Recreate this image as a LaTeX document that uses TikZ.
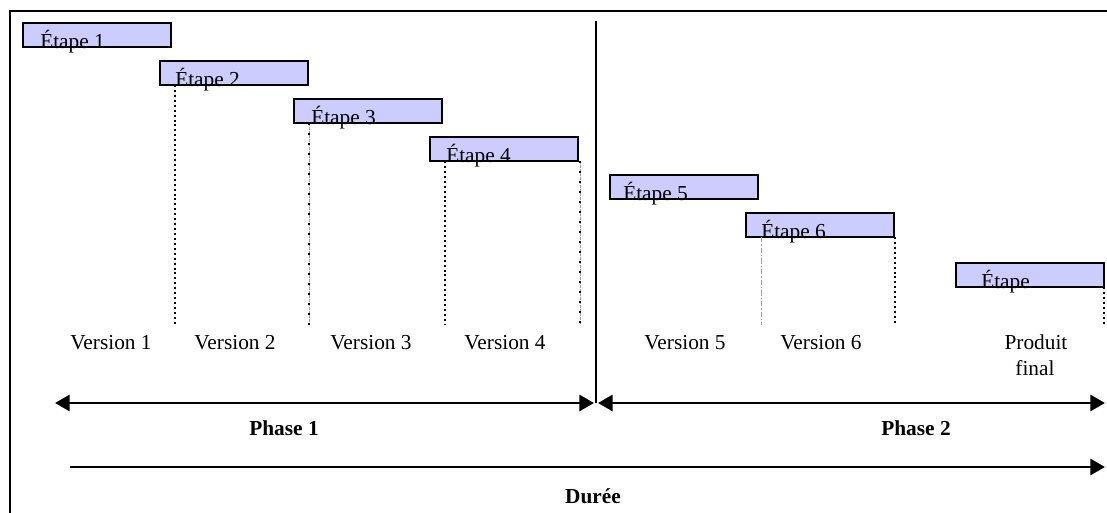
\documentclass[tikz,border=0pt]{standalone}
\usepackage{fontspec}
\setmainfont{Liberation Serif}
\usetikzlibrary{arrows.meta}
\definecolor{barfill}{HTML}{CCCCFF}
\definecolor{dotgrey}{HTML}{A0A0A0}
\begin{document}
\begin{tikzpicture}[x=0.75pt,y=-0.75pt,
  bar/.style={draw=black, line width=1.8pt, fill=barfill, minimum width=111pt, minimum height=18pt, anchor=north west, inner sep=0pt, outer sep=0pt},
  etape/.style={anchor=base west, inner sep=0pt, font=\fontsize{16}{19}\selectfont},
  version/.style={anchor=base, inner sep=0pt, font=\fontsize{16}{19}\selectfont, align=center},
  phase/.style={anchor=base, inner sep=0pt, font=\fontsize{16}{19}\selectfont\bfseries},
  blackdots/.style={line width=1.5pt, dash pattern=on 1.5pt off 2.2pt},
  greydots/.style={line width=0.6pt, draw=dotgrey, dash pattern=on 2pt off 1pt},
  greydashdot/.style={line width=0.6pt, draw=dotgrey, dash pattern=on 4pt off 1.5pt on 1pt off 1.5pt},
  sparsedots/.style={line width=1.5pt, dash pattern=on 1.5pt off 6pt},
  bigarrow/.style={line width=2.2pt, -{Triangle[length=11pt,width=12pt]}},
  dblarrow/.style={line width=2.2pt, {Triangle[length=11pt,width=12pt]}-{Triangle[length=11pt,width=12pt]}},
]
\useasboundingbox (0,0) rectangle (1107,512);
\clip (0,0) rectangle (1107,512);
% outer frame
\draw[line width=1.6pt] (10,520) -- (10,11) -- (1120,11);

% bars
\node[bar] (b1) at (23,23) {};
\node[bar] (b2) at (160,61) {};
\node[bar] (b3) at (294,99) {};
\node[bar] (b4) at (430,137) {};
\node[bar] (b5) at (610,175) {};
\node[bar] (b6) at (746,213) {};
\node[bar] (b7) at (956,263) {};

% dotted guide lines
\coordinate (d1) at (175,325);
\coordinate (d2) at (309,325);
\coordinate (d3) at (445,325);
\coordinate (d4) at (580,325);
\coordinate (d5) at (761,325);
\coordinate (d6) at (895,325);
\coordinate (d7) at (1104,325);
\draw[blackdots] (b2.south west -| d1) -- (d1);
\draw[greydots] (b3.south west -| d2) -- (d2);
\draw[sparsedots] (b3.south west -| d2) -- (d2);
\draw[blackdots] (b4.south west -| d3) -- (d3);
\draw[greydots] (b4.south east -| d4) -- (d4);
\draw[sparsedots] (b4.south east -| d4) -- (d4);
\draw[greydashdot] (b6.south west -| d5) -- (d5);
\draw[blackdots] (b6.south east -| d6) -- (d6);
\draw[blackdots] (b7.south east -| d7) -- (d7);

% bar texts
\node[etape] (t1) at (40,48) {Étape 1};
\node[etape] (t2) at (175,86) {Étape 2};
\node[etape] (t3) at (311,124) {Étape 3};
\node[etape] (t4) at (446,162) {Étape 4};
\node[etape] (t5) at (623,200) {Étape 5};
\node[etape] (t6) at (761,238) {Étape 6};
\node[etape] (t7) at (981,288) {Étape};

% version labels
\node[version] (v1) at (111,349) {Version 1};
\node[version] (v2) at (235,349) {Version 2};
\node[version] (v3) at (371,349) {Version 3};
\node[version] (v4) at (505,349) {Version 4};
\node[version] (v5) at (685,349) {Version 5};
\node[version] (v6) at (821,349) {Version 6};
\node[version] (v7) at (1036,349) {Produit};
\node[version] (v8) at (1035,375) {final};

% divider
\coordinate (top) at (596,21);
\coordinate (mid) at (596,403);
\draw[line width=1.1pt] (top) -- (mid);

% phase arrows
\coordinate (p1l) at (55,403);
\coordinate (p1r) at (594,403);
\coordinate (p2l) at (598,403);
\coordinate (p2r) at (1105,403);
\draw[dblarrow] (p1l) -- (p1r);
\draw[dblarrow] (p2l) -- (p2r);
\node[phase] (ph1) at (284,435) {Phase 1};
\node[phase] (ph2) at (916,435) {Phase 2};

% duration arrow
\coordinate (dl) at (70,467);
\coordinate (dr) at (1105,467);
\draw[bigarrow] (dl) -- (dr);
\node[phase] (dur) at (593,503) {Durée};
\end{tikzpicture}
\end{document}
